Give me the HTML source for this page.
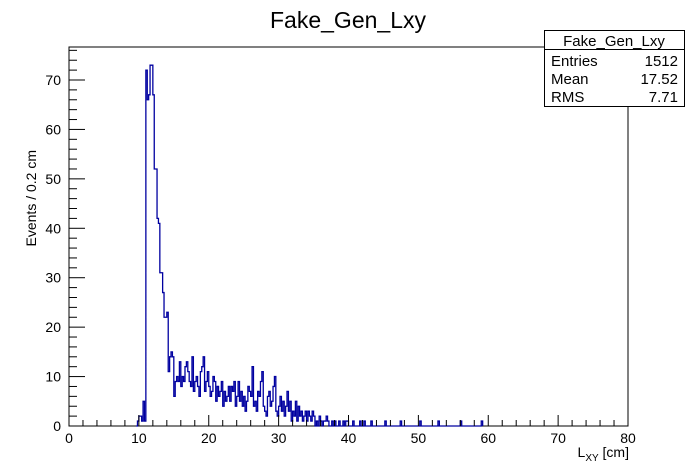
<!DOCTYPE html>
<html><head><meta charset="utf-8"><style>
body{margin:0;background:#fff;}
svg{display:block;font-family:"Liberation Sans",sans-serif;}
</style></head><body>
<svg id="c" width="698" height="474"></svg>
<script>
const binWidth = 0.2;
const startX = 9.6;
const counts = [
0,1,2,2,1,5,1,72,66,67,73,73,67,52,52,42,41,31,31,27,22,22,23,11,14,15,14,6,9,10,
9,13,8,10,9,12,13,11,9,8,14,7,9,10,8,6,11,12,14,7,9,11,8,6,7,10,9,5,8,6,
7,9,4,7,5,6,8,5,8,7,9,4,6,9,5,7,4,6,3,5,8,7,6,12,4,5,3,7,6,9,
11,4,3,2,6,7,4,5,8,10,3,2,4,6,3,5,2,4,7,3,5,1,3,2,5,1,4,2,3,1,
2,3,1,3,2,1,3,2,0,1,0,2,1,0,1,1,2,1,0,0,1,0,1,0,0,1,0,0,1,0,
1,1,0,0,0,1,0,0,0,0,1,0,0,1,0,0,0,0,1,0,0,0,0,0,0,0,0,0,1,0,
0,0,0,0,0,0,0,0,0,1,0,0,0,0,0,0,0,0,0,0,0,0,0,1,0,0,0,0,0,0,
0,0,0,0,0,0,1,0,0,0,0,0,0,0,0,0,0,0,0,0,0,0,1,0,0,0,0,0,0,0,
0,0,0,0,0,0,0,1];
const xTicks = [0,10,20,30,40,50,60,70,80];
const yTicks = [0,10,20,30,40,50,60,70];
const NS='http://www.w3.org/2000/svg';
const svg=document.getElementById('c');
const L=69,R=628,T=47,B=426;
const xs=v=>L+(v-0)/80*(R-L);
const ys=v=>B-v*(B-80)/70;
function el(t,a,p){const e=document.createElementNS(NS,t);for(const k in a)e.setAttribute(k,a[k]);(p||svg).appendChild(e);return e;}
const frame=el('rect',{x:L,y:T,width:R-L,height:B-T,fill:'none',stroke:'#000','stroke-width':1});


let d='M'+xs(startX)+','+ys(0);
counts.forEach((c,i)=>{const x0=xs(startX+i*binWidth),x1=xs(startX+(i+1)*binWidth);d+=' L'+x0+','+ys(c)+' L'+x1+','+ys(c);});
d+=' L'+xs(startX+counts.length*binWidth)+','+ys(0);
const h=el('path',{d:d,fill:'none',stroke:'#0000a0','stroke-width':1.3});


for(let v=0;v<=80;v+=2){const maj=v%10===0;el('line',{x1:xs(v),x2:xs(v),y1:B,y2:B-(maj?11:6),stroke:'#000'});}
xTicks.forEach(v=>{const t=el('text',{x:xs(v),y:B+17,'text-anchor':'middle','font-size':14});t.textContent=v;

});
for(let v=0;v<=76;v+=2){const maj=v%10===0;el('line',{x1:L,x2:L+(maj?16:8),y1:ys(v),y2:ys(v),stroke:'#000'});}
yTicks.forEach(v=>{const t=el('text',{x:L-8,y:ys(v)+5,'text-anchor':'end','font-size':14});t.textContent=v;

});
</script>
<svg width="698" height="474" style="position:absolute;left:0;top:0">
<text x="348" y="28" text-anchor="middle" font-size="23" font-family="Liberation Sans,sans-serif">Fake_Gen_Lxy</text>
<text x="629" y="457" text-anchor="end" font-size="14" font-family="Liberation Sans,sans-serif">L<tspan font-size="10" dy="4">XY</tspan><tspan dy="-4"> [cm]</tspan></text>
<text transform="translate(36,150) rotate(-90)" text-anchor="end" font-size="14" font-family="Liberation Sans,sans-serif">Events / 0.2 cm</text>
<g font-family="Liberation Sans,sans-serif" font-size="15">
<rect x="544.5" y="30.5" width="140" height="76" fill="#fff" stroke="#000"/>
<line x1="544.5" y1="49.5" x2="684.5" y2="49.5" stroke="#000"/>
<text x="614" y="46" text-anchor="middle">Fake_Gen_Lxy</text>
<text x="551" y="66">Entries</text><text x="678" y="66" text-anchor="end">1512</text>
<text x="551" y="84">Mean</text><text x="678" y="84" text-anchor="end">17.52</text>
<text x="551" y="102">RMS</text><text x="678" y="102" text-anchor="end">7.71</text>
</g>
</svg>
</body></html>
